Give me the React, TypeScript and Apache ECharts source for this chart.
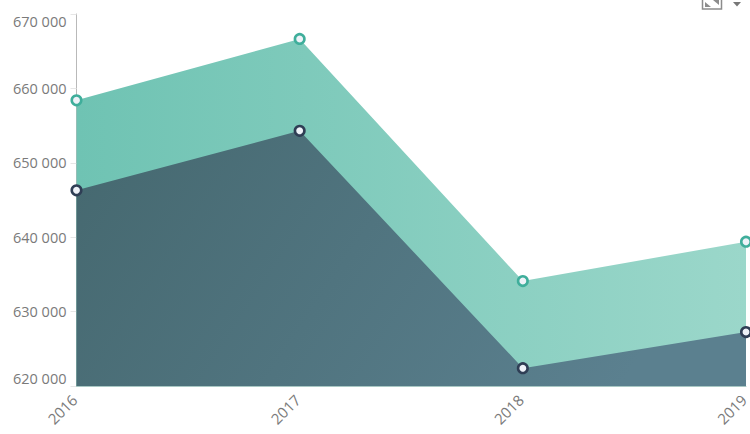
import React, { useEffect, useRef } from "react";
import * as echarts from "echarts";

const categories = ["2016", "2017", "2018", "2019"];
const upperValues = [658400, 666650, 634100, 639400];
const lowerValues = [646300, 654300, 622400, 627250];
const yMin = 620000;
const yMax = 670000;
const yInterval = 10000;

const fmt = (v: number) => String(v).replace(/\B(?=(\d{3})+$)/g, " ");

function grad(x2: number, y2: number, a: string, b: string) {
  return new echarts.graphic.LinearGradient(0, 0, x2, y2, [
    { offset: 0, color: a },
    { offset: 1, color: b },
  ]);
}

export default function App() {
  const ref = useRef<HTMLDivElement>(null);
  useEffect(() => {
    const chart = echarts.init(ref.current!, undefined, { renderer: "svg" });
    const font = { fontFamily: "Open Sans", fontSize: 14.5, color: "#7a7a7a" };
    const areaSeries = (name: string, data: number[], stroke: string, fill: any, z: number) => ({
      name,
      type: "line",
      data,
      z,
      symbol: "circle",
      symbolSize: 9.5,
      showSymbol: true,
      itemStyle: { color: "#eef2f8", borderColor: stroke, borderWidth: 2.6 },
      lineStyle: { width: 0 },
      areaStyle: { color: fill, opacity: 1 },
      clip: false,
    });
    chart.setOption({
      animation: false,
      backgroundColor: "#ffffff",
      grid: { left: 76.5, right: 4, top: 14, bottom: 48, containLabel: false, outerBoundsMode: "none" },
      xAxis: {
        type: "category",
        boundaryGap: false,
        data: categories,
        z: 10,
        axisLine: { show: true, lineStyle: { color: "#a9c8c4", width: 1 } },
        axisTick: { show: false },
        axisLabel: { ...font, fontSize: 15, rotate: 45, margin: 9, padding: [0, 3, 0, 0], showMinLabel: true, showMaxLabel: true, interval: 0 },
      },
      yAxis: {
        type: "value",
        min: yMin,
        max: yMax,
        interval: yInterval,
        axisLine: { show: true, lineStyle: { color: "#b9b9b9", width: 1 } },
        axisTick: { show: true, length: 6, lineStyle: { color: "#e6e6e6", width: 1 } },
        splitLine: { show: false },
        axisLabel: {
          ...font,
          margin: 10,
          formatter: (v: number) => fmt(v),
          verticalAlignMinLabel: "bottom",
          verticalAlignMaxLabel: "top",
        },
      },
      series: [
        areaSeries("upper", upperValues, "#3fae9b", grad(1, 0, "#6fc3b3", "#9bd7ca"), 2),
        areaSeries("lower", lowerValues, "#2f3e55", grad(1, 0.25, "#45686f", "#5b808f"), 3),
      ],
      graphic: [
        {
          type: "rect",
          shape: { x: 702.5, y: -10, width: 19, height: 19 },
          style: { fill: "#ffffff", stroke: "#8c8c8c", lineWidth: 1.5 },
        },
        {
          type: "polygon",
          shape: { points: [[705, 7], [711, 7], [705, 2]] },
          style: { fill: "#8c8c8c" },
        },
        {
          type: "polygon",
          shape: { points: [[713, 0], [719, 0], [719, 5]] },
          style: { fill: "#8c8c8c" },
        },
        {
          type: "polygon",
          shape: { points: [[733, 2], [741, 2], [737, 6.5]] },
          style: { fill: "#777777" },
        },
      ],
    });
    return () => chart.dispose();
  }, []);
  return <div ref={ref} style={{ position: "fixed", left: 0, top: 0, width: 750, height: 434 }} />;
}
